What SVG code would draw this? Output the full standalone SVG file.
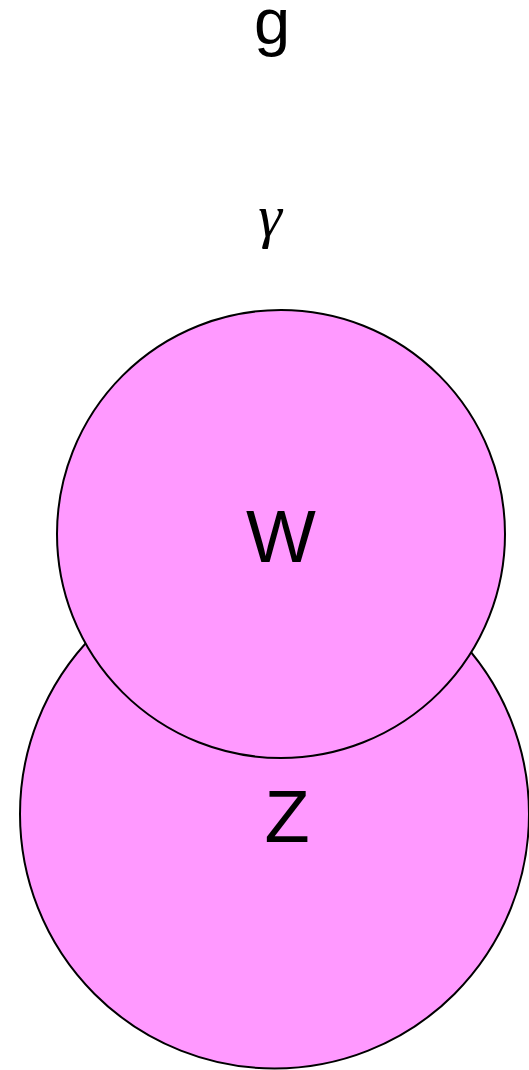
<svg xmlns="http://www.w3.org/2000/svg" width="529" height="1070" viewBox="0 0 529 1070">
<style>
.node{fill:#ff99ff;stroke:#000;stroke-width:2}
.lbl{font-family:"Liberation Sans",Arial,sans-serif;fill:#000;text-anchor:middle}
</style>
<rect width="529" height="1070" fill="#fff"/>
<g id="title"><text class="lbl" x="272" y="44" font-size="65">g</text></g>
<g id="gamma"><text x="270" y="236" font-family="Liberation Serif,serif" font-style="italic" font-size="60" text-anchor="middle">γ</text></g>
<g id="connectors"></g>
<g id="Z"><circle class="node" cx="274.5" cy="814" r="254.5"/><text class="lbl" x="287" y="842" font-size="74">Z</text></g>
<g id="W"><circle class="node" cx="281" cy="534" r="224"/><text class="lbl" x="281" y="562" font-size="74">W</text></g>
</svg>
